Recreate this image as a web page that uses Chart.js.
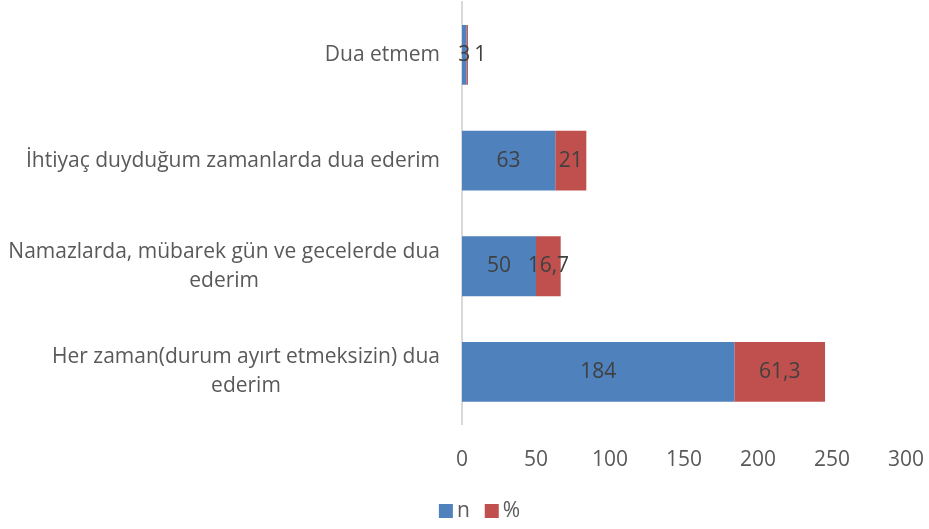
<!DOCTYPE html>
<html>
<head>
<meta charset="utf-8">
<script src="https://cdn.jsdelivr.net/npm/chart.js@4.4.0/dist/chart.umd.min.js"></script>
<style>
  html, body { margin: 0; padding: 0; background: #fff; }
  #wrap { width: 929px; height: 529px; }
</style>
</head>
<body>
<div id="wrap"><canvas id="myChart"></canvas></div>
<script>
// Veriler
var kategoriler = [
  ['Dua etmem'],
  ['İhtiyaç duyduğum zamanlarda dua ederim'],
  ['Namazlarda, mübarek gün ve gecelerde dua', 'ederim'],
  ['Her zaman(durum ayırt etmeksizin) dua', 'ederim']
];
var degerlerN = [3, 63, 50, 184];
var degerlerYuzde = [1, 21, 16.7, 61.3];
var xTicks = [0, 50, 100, 150, 200, 250, 300];

var yaziFont = '"Open Sans", sans-serif';
var yaziRenk = '#595959';
var yaziBoyut = 21;

// Kategori etiketlerini Excel gibi çiz (satırlar ortalanmış, blok sağa yaslı)
var kategoriEtiketleri = {
  id: 'kategoriEtiketleri',
  afterDraw: function (chart) {
    var ctx = chart.ctx;
    var y = chart.scales.y;
    ctx.save();
    ctx.font = yaziBoyut + 'px ' + yaziFont;
    ctx.fillStyle = yaziRenk;
    ctx.textAlign = 'center';
    ctx.textBaseline = 'middle';
    var lineH = 29;
    kategoriler.forEach(function (satirlar, i) {
      var maxW = 0;
      satirlar.forEach(function (s) { maxW = Math.max(maxW, ctx.measureText(s).width); });
      var cx = y.right - 22 - maxW / 2;
      var cy = y.getPixelForValue(i);
      var y0 = cy - (satirlar.length - 1) * lineH / 2;
      satirlar.forEach(function (s, k) {
        ctx.fillText(s, cx, y0 + k * lineH);
      });
    });
    ctx.restore();
  }
};

// Değer etiketleri
var degerEtiketleri = {
  id: 'degerEtiketleri',
  afterDatasetsDraw: function (chart) {
    var ctx = chart.ctx;
    ctx.save();
    ctx.font = yaziBoyut + 'px ' + yaziFont;
    ctx.fillStyle = '#404040';
    ctx.textAlign = 'center';
    ctx.textBaseline = 'middle';
    var sonSag = [];
    chart.data.datasets.forEach(function (ds, di) {
      var meta = chart.getDatasetMeta(di);
      meta.data.forEach(function (bar, i) {
        var metin = String(ds.data[i]).replace('.', ',');
        var w = ctx.measureText(metin).width;
        var cx = (bar.base + bar.x) / 2;
        if (sonSag[i] !== undefined && cx - w / 2 < sonSag[i] + 4) {
          cx = sonSag[i] + 4 + w / 2;
        }
        sonSag[i] = cx + w / 2;
        ctx.fillText(metin, cx, bar.y);
      });
    });
    ctx.restore();
  }
};

// Alt ortada gösterge
var gosterge = {
  id: 'gosterge',
  afterDraw: function (chart) {
    var ctx = chart.ctx;
    ctx.save();
    ctx.font = yaziBoyut + 'px ' + yaziFont;
    ctx.textBaseline = 'middle';
    ctx.textAlign = 'left';
    var kutu = 14, bosluk = 4, aralik = 15;
    var ogeler = chart.data.datasets.map(function (ds) {
      return { metin: ds.label, renk: ds.backgroundColor, w: kutu + bosluk + ctx.measureText(ds.label).width };
    });
    var toplam = ogeler.reduce(function (a, o) { return a + o.w; }, 0) + aralik * (ogeler.length - 1);
    var x = (chart.width - toplam) / 2 + 15;
    var yMerkez = 511;
    ogeler.forEach(function (o) {
      ctx.fillStyle = o.renk;
      ctx.fillRect(x, yMerkez - kutu / 2, kutu, kutu);
      ctx.fillStyle = yaziRenk;
      ctx.fillText(o.metin, x + kutu + bosluk, yMerkez);
      x += o.w + aralik;
    });
    ctx.restore();
  }
};

var ctx = document.getElementById('myChart').getContext('2d');

var myChart = new Chart(ctx, {
  type: 'bar',
  data: {
    labels: kategoriler,
    datasets: [{
      label: 'n',
      data: degerlerN,
      backgroundColor: '#4F81BD',
      barPercentage: 0.566,
      categoryPercentage: 1
    }, {
      label: '%',
      data: degerlerYuzde,
      backgroundColor: '#C0504D',
      barPercentage: 0.566,
      categoryPercentage: 1
    }]
  },
  options: {
    indexAxis: 'y',
    responsive: true,
    maintainAspectRatio: false,
    animation: false,
    layout: { padding: { top: 2, right: 23, bottom: 41, left: 0 } },
    scales: {
      x: {
        stacked: true,
        min: 0,
        max: 300,
        afterBuildTicks: function (scale) {
          scale.ticks = xTicks.map(function (v) { return { value: v }; });
        },
        afterFit: function (scale) {
          scale.paddingLeft = 0;
          scale.paddingRight = 0;
        },
        grid: { display: false },
        border: { display: false },
        ticks: {
          color: yaziRenk,
          font: { family: yaziFont, size: yaziBoyut },
          padding: 15,
          maxRotation: 0
        }
      },
      y: {
        stacked: true,
        grid: { display: false },
        border: { display: true, color: '#D9D9D9', width: 2 },
        afterFit: function (scale) { scale.width = 462; },
        ticks: { display: false }
      }
    },
    plugins: {
      legend: { display: false },
      tooltip: { enabled: false }
    }
  },
  plugins: [kategoriEtiketleri, degerEtiketleri, gosterge]
});
</script>
</body>
</html>
